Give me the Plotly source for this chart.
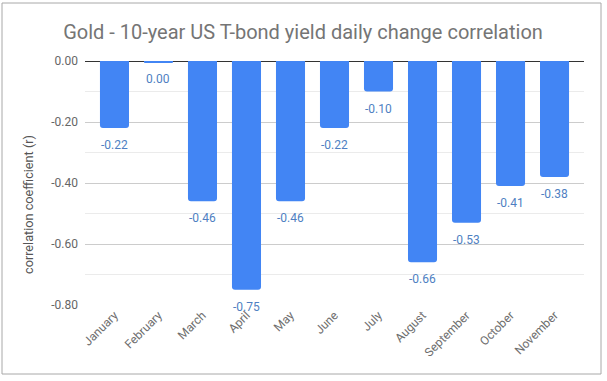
import plotly.graph_objects as go

months = ["January", "February", "March", "April", "May", "June", "July",
          "August", "September", "October", "November"]
correlation = [-0.22, -0.004, -0.46, -0.75, -0.46, -0.22, -0.10, -0.66, -0.53, -0.41, -0.38]
y_ticks = [0.0, -0.2, -0.4, -0.6, -0.8]
y_tick_labels = ["0.00", "-0.20", "-0.40", "-0.60", "-0.80"]

labels = [f"{v:.2f}".replace("-0.00", "0.00") for v in correlation]

W, H = 607, 381
L, R, T, B = 85, 23, 61, 76
pw, ph = W - L - R, H - T - B

def px_x(x):
    return (x - L) / pw

def px_y(y):
    return (H - B - y) / ph

fig = go.Figure()
fig.add_trace(go.Bar(
    x=months, y=correlation,
    marker=dict(color="#4285f4", cornerradius=3, line=dict(width=0)),
    width=0.66, hoverinfo="x+y",
))

for m, v, t in zip(months, correlation, labels):
    fig.add_annotation(x=m, y=v, text=t, showarrow=False, yshift=-17,
                       font=dict(family="Roboto", size=12, color="#4f7fc2"),
                       xanchor="center", yanchor="middle")

fig.add_annotation(xref="paper", yref="paper", x=px_x(28), y=px_y(205),
                   text="correlation coefficient (r)", textangle=-90, showarrow=False,
                   font=dict(family="Roboto", size=12.7, color="#555555"),
                   xanchor="center", yanchor="middle")

fig.add_shape(type="rect", xref="paper", yref="paper",
              x0=px_x(2), x1=px_x(601), y0=px_y(374), y1=px_y(3),
              line=dict(color="#a8a8a8", width=1), layer="below")

fig.update_layout(
    width=W, height=H,
    margin=dict(l=L, r=R, t=T, b=B),
    paper_bgcolor="white", plot_bgcolor="white",
    title=dict(text="Gold - 10-year US T-bond yield daily change correlation",
               x=303 / W, xanchor="center", y=1 - 32 / H, yanchor="middle",
               font=dict(family="Roboto", size=20, color="#757575")),
    showlegend=False,
    xaxis=dict(range=[-0.67, 10.67], tickangle=-45, showgrid=False, showline=False,
               ticks="", tickfont=dict(family="Roboto", size=12, color="#6e6e6e")),
    yaxis=dict(range=[-0.8, 0.0], tickvals=y_ticks, ticktext=y_tick_labels,
               showgrid=True, gridcolor="#cccccc", gridwidth=1,
               zeroline=True, zerolinecolor="#333333", zerolinewidth=1,
               minor=dict(dtick=0.1, tick0=0, showgrid=True, gridcolor="#ebebeb"),
               ticks="", tickfont=dict(family="Roboto", size=12, color="#666666"),
               ticklabelstandoff=6),
)

fig.write_html("out.html", config={"displayModeBar": False},
               post_script="document.body.style.margin='0px';")
